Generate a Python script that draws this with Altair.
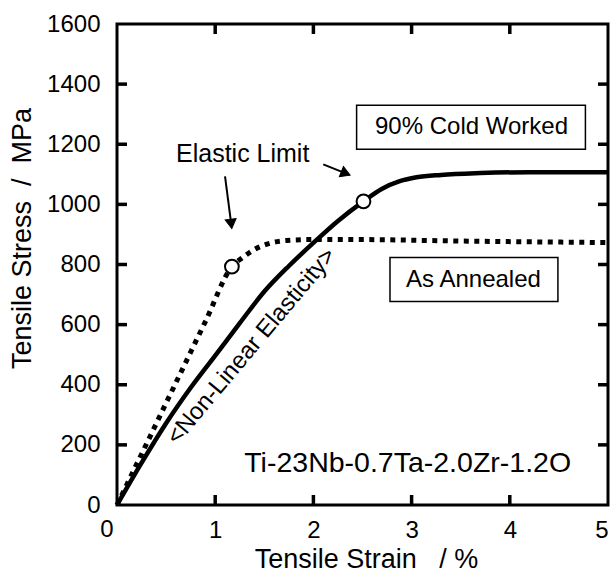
import altair as alt
import pandas as pd

# ---- data ----
cw_strain = [0, 0.25, 0.5, 0.75, 1.0, 1.25, 1.5, 1.75, 2.0, 2.25, 2.51, 2.7, 2.88, 3.05, 3.3, 3.7, 4.2, 5.0]
cw_stress = [0, 140, 272, 390, 497, 605, 710, 795, 872, 945, 1010, 1052, 1077, 1090, 1098, 1104, 1107, 1107]

an_strain = [0, 0.3, 0.6, 0.9, 1.17, 1.28, 1.4, 1.52, 1.73, 2.0, 2.44, 3.5, 5.0]
an_stress = [0, 203, 407, 610, 793, 823, 850, 867, 880, 883, 883, 878, 873]

limit_strain = [1.17, 2.51]
limit_stress = [793, 1010]

x_ticks = [0, 1, 2, 3, 4, 5]
y_ticks = [0, 200, 400, 600, 800, 1000, 1200, 1400, 1600]
x_inner_ticks = [1, 2, 3, 4]
y_inner_ticks = [200, 400, 600, 800, 1000, 1200, 1400]

# annotations (data units)
box_labels = ["90% Cold Worked", "As Annealed"]
box_x1 = [2.44, 2.78]
box_x2 = [4.77, 4.49]
box_y1 = [1183, 677]
box_y2 = [1330, 823]
box_tx = [3.61, 3.63]
box_ty = [1257, 750]

elastic_label = ["Elastic Limit"]
elastic_x = [1.28]
elastic_y = [1167]

alloy_label = ["Ti-23Nb-0.7Ta-2.0Zr-1.2O"]
alloy_x = [2.96]
alloy_y = [140]

rot_label = ["<Non-Linear Elasticity>"]
rot_x = [1.37]
rot_y = [527]

arrow_x1 = [1.10, 2.10]
arrow_y1 = [1093, 1133]
arrow_x2 = [1.163, 2.33]
arrow_y2 = [935, 1103]

FONT = "Liberation Sans"
NB = "\u00a0"
X_TITLE = "Tensile Strain" + NB * 3 + "/" + NB + "%"
Y_TITLE = "Tensile Stress" + NB * 2 + "/" + NB * 2 + "MPa"

TICK_PX = 10
PLOT_W, PLOT_H = 491, 481

xs = alt.Scale(domain=[0, 5], nice=False, zero=False)
ys = alt.Scale(domain=[0, 1600], nice=False, zero=False)

cw_df = pd.DataFrame({"strain": cw_strain, "stress": cw_stress})
an_df = pd.DataFrame({"strain": an_strain, "stress": an_stress})
lim_df = pd.DataFrame({"strain": limit_strain, "stress": limit_stress})
box_df = pd.DataFrame({"label": box_labels, "bx1": box_x1, "bx2": box_x2,
                       "by1": box_y1, "by2": box_y2, "tx": box_tx, "ty": box_ty})
el_df = pd.DataFrame({"label": elastic_label, "x": elastic_x, "y": elastic_y})
al_df = pd.DataFrame({"label": alloy_label, "x": alloy_x, "y": alloy_y})
rot_df = pd.DataFrame({"label": rot_label, "x": rot_x, "y": rot_y})
arr_df = pd.DataFrame({"ax1": arrow_x1, "ay1": arrow_y1, "ax2": arrow_x2, "ay2": arrow_y2})
zero_df = pd.DataFrame({"x": [0], "y": [0], "label": ["0"]})

# inward tick segments on all four sides; the pixel length is converted to data units
dxt = TICK_PX * 5.0 / PLOT_W
dyt = TICK_PX * 1600.0 / PLOT_H
tx1, tx2, ty1, ty2 = [], [], [], []
for v in y_inner_ticks:
    tx1 += [0.0, 5.0]
    tx2 += [dxt, 5.0 - dxt]
    ty1 += [float(v), float(v)]
    ty2 += [float(v), float(v)]
for v in x_inner_ticks:
    tx1 += [float(v), float(v)]
    tx2 += [float(v), float(v)]
    ty1 += [0.0, 1600.0]
    ty2 += [dyt, 1600.0 - dyt]
tick_df = pd.DataFrame({"ta": tx1, "tb": tx2, "tc": ty1, "td": ty2})

x_axis = alt.Axis(
    values=x_ticks, format="d", ticks=False, domain=False, grid=False,
    labelFont=FONT, labelFontSize=24, labelColor="black", labelPadding=13,
    labelExpr="datum.value == 0 ? '' : datum.label",
    title=X_TITLE, titleFont=FONT, titleFontSize=27,
    titleFontWeight="normal", titleColor="black",
    titleX=249, titleY=62, titleAlign="center", titleBaseline="alphabetic",
)
y_axis = alt.Axis(
    values=y_ticks, format="d", ticks=False, domain=False, grid=False,
    labelFont=FONT, labelFontSize=24, labelColor="black", labelPadding=17,
    title=Y_TITLE, titleFont=FONT, titleFontSize=27,
    titleFontWeight="normal", titleColor="black",
    titleX=-95, titleY=214, titleAngle=-90, titleAlign="center", titleBaseline="middle",
)

ticks = alt.Chart(tick_df).mark_rule(color="#000000", strokeWidth=3.5).encode(
    x=alt.X("ta:Q", scale=xs, axis=x_axis), x2="tb:Q",
    y=alt.Y("tc:Q", scale=ys, axis=y_axis), y2="td:Q",
)

cold = alt.Chart(cw_df).mark_line(
    color="black", strokeWidth=4.5, interpolate="monotone"
).encode(
    x=alt.X("strain:Q", scale=xs),
    y=alt.Y("stress:Q", scale=ys),
)

anneal = alt.Chart(an_df).mark_line(
    color="black", strokeWidth=5, strokeDash=[5, 5.5], strokeCap="butt",
    interpolate="monotone"
).encode(
    x=alt.X("strain:Q", scale=xs),
    y=alt.Y("stress:Q", scale=ys),
)

limits = alt.Chart(lim_df).mark_point(
    shape="circle", size=190, filled=True, fill="white", stroke="black",
    strokeWidth=2, opacity=1
).encode(
    x=alt.X("strain:Q", scale=xs),
    y=alt.Y("stress:Q", scale=ys),
)

boxes = alt.Chart(box_df).mark_rect(
    fill="white", stroke="black", strokeWidth=1.5
).encode(
    x=alt.X("bx1:Q", scale=xs), x2="bx2:Q",
    y=alt.Y("by1:Q", scale=ys), y2="by2:Q",
)

box_text = alt.Chart(box_df).mark_text(
    font=FONT, fontSize=24, color="black", align="center", baseline="middle"
).encode(
    x=alt.X("tx:Q", scale=xs), y=alt.Y("ty:Q", scale=ys), text="label:N"
)

elastic_text = alt.Chart(el_df).mark_text(
    font=FONT, fontSize=25, color="black", align="center", baseline="middle"
).encode(
    x=alt.X("x:Q", scale=xs), y=alt.Y("y:Q", scale=ys), text="label:N"
)

alloy_text = alt.Chart(al_df).mark_text(
    font=FONT, fontSize=28.5, color="black", align="center", baseline="middle"
).encode(
    x=alt.X("x:Q", scale=xs), y=alt.Y("y:Q", scale=ys), text="label:N"
)

rot_text = alt.Chart(rot_df).mark_text(
    font=FONT, fontSize=24, color="black", align="center", baseline="middle",
    angle=310
).encode(
    x=alt.X("x:Q", scale=xs), y=alt.Y("y:Q", scale=ys), text="label:N"
)

zero_text = alt.Chart(zero_df).mark_text(
    font=FONT, fontSize=24, color="black", align="center", baseline="alphabetic",
    dx=-10, dy=32
).encode(
    x=alt.X("x:Q", scale=xs), y=alt.Y("y:Q", scale=ys), text="label:N"
)

arrow_lines = alt.Chart(arr_df).mark_rule(color="black", strokeWidth=2).encode(
    x=alt.X("ax1:Q", scale=xs), y=alt.Y("ay1:Q", scale=ys), x2="ax2:Q", y2="ay2:Q"
)

arr1_df = arr_df.iloc[[0]]
arr2_df = arr_df.iloc[[1]]
head1 = alt.Chart(arr1_df).mark_point(
    shape="triangle-up", size=120, filled=True, fill="black", stroke="black",
    strokeWidth=1, opacity=1, angle=173
).encode(x=alt.X("ax2:Q", scale=xs), y=alt.Y("ay2:Q", scale=ys))
head2 = alt.Chart(arr2_df).mark_point(
    shape="triangle-up", size=120, filled=True, fill="black", stroke="black",
    strokeWidth=1, opacity=1, angle=112
).encode(x=alt.X("ax2:Q", scale=xs), y=alt.Y("ay2:Q", scale=ys))

chart = alt.layer(
    ticks, cold, anneal, limits, boxes, box_text, elastic_text, alloy_text,
    rot_text, zero_text, arrow_lines, head1, head2,
).properties(
    width=PLOT_W, height=PLOT_H,
    autosize=alt.AutoSizeParams(type="none"),
    padding={"left": 117, "top": 24, "right": 8, "bottom": 72},
    background="white",
).configure_view(
    stroke="black", strokeWidth=3
)

chart.save("out.html", embed_options={"renderer": "svg", "actions": False})
